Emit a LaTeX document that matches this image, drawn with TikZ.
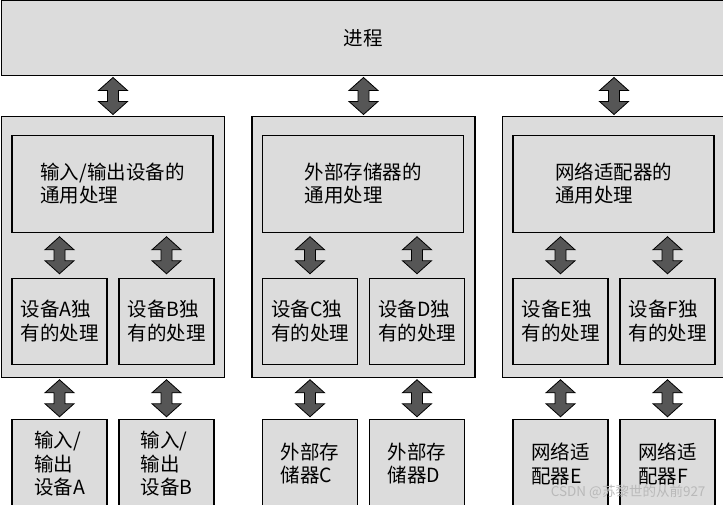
\documentclass[tikz,border=0pt]{standalone}
\usepackage{fontspec}
\setmainfont{Noto Sans CJK SC}
\usepackage{tikz}
\usetikzlibrary{positioning,calc}

\definecolor{boxgray}{HTML}{DCDCDC}
\definecolor{arrowgray}{HTML}{565656}

% block double arrow, centred in the gap between two boxes
\newcommand{\dblarrow}[2]{%
  \path[linkarrow] let \p1=(#1.south), \p2=(#2.north), \p3=($(\p1)!0.5!(\p2)$) in
    (\x2,\y3+18.5bp) -- ++(14.5bp,-13bp) -- ++(-9bp,0bp) -- ++(0bp,-11bp)
    -- ++(9bp,0bp) -- ++(-14.5bp,-13bp) -- ++(-14.5bp,13bp) -- ++(9bp,0bp)
    -- ++(0bp,11bp) -- ++(-9bp,0bp) -- cycle;}

\begin{document}
\begin{tikzpicture}[
  x=1bp, y=-1bp,
  font=\fontsize{19.5bp}{23.5bp}\selectfont,
  box/.style={draw, line width=1.4bp, fill=boxgray, inner sep=0pt,
    outer sep=0pt, align=left},
  procbox/.style={box, minimum width=723.5bp, minimum height=74.5bp},
  groupbox/.style={box, minimum width=223bp, minimum height=260.5bp},
  commonbox/.style={box, minimum width=201bp, minimum height=97bp},
  ownbox/.style={box, minimum width=95bp, minimum height=86bp},
  devbox/.style={box, minimum width=95bp, minimum height=89bp},
  linkarrow/.style={draw=black, line width=0.8bp, fill=arrowgray}
]
\useasboundingbox (0,0) rectangle (723,505);
\node[procbox, anchor=north west] (proc) at (1.5,0.75) {进程};
\node[groupbox, below=41.5bp of proc.south west, anchor=north west] (g1) {};
\node[groupbox, right=27.5bp of g1] (g2) {};
\node[groupbox, right=27.5bp of g2] (g3) {};
% I/O devices
\node[commonbox, below right=18.5bp and 10.5bp of g1.north west] (c1) {输入/输出设备的\\通用处理};
\node[ownbox, below=46bp of c1.south west, anchor=north west] (oA) {设备A独\\有的处理};
\node[ownbox, right=12bp of oA] (oB) {设备B独\\有的处理};
\node[devbox, below=55bp of oA] (dA) {输入/\\输出\\设备A};
\node[devbox, below=55bp of oB] (dB) {输入/\\输出\\设备B};
% storage
\node[commonbox, below right=18.5bp and 10.5bp of g2.north west] (c2) {外部存储器的\\通用处理};
\node[ownbox, below=46bp of c2.south west, anchor=north west] (oC) {设备C独\\有的处理};
\node[ownbox, right=12bp of oC] (oD) {设备D独\\有的处理};
\node[devbox, below=55bp of oC] (dC) {外部存\\储器C};
\node[devbox, below=55bp of oD] (dD) {外部存\\储器D};
% network
\node[commonbox, below right=18.5bp and 10.5bp of g3.north west] (c3) {网络适配器的\\通用处理};
\node[ownbox, below=46bp of c3.south west, anchor=north west] (oE) {设备E独\\有的处理};
\node[ownbox, right=12bp of oE] (oF) {设备F独\\有的处理};
\node[devbox, below=55bp of oE] (dE) {网络适\\配器E};
\node[devbox, below=55bp of oF] (dF) {网络适\\配器F};
\dblarrow{proc}{g1}
\dblarrow{proc}{g2}
\dblarrow{proc}{g3}
\dblarrow{c1}{oA}
\dblarrow{c1}{oB}
\dblarrow{c2}{oC}
\dblarrow{c2}{oD}
\dblarrow{c3}{oE}
\dblarrow{c3}{oF}
\dblarrow{g1}{dA}
\dblarrow{g1}{dB}
\dblarrow{g2}{dC}
\dblarrow{g2}{dD}
\dblarrow{g3}{dE}
\dblarrow{g3}{dF}
\node[font=\fontsize{13.5bp}{14bp}\selectfont, text=gray!55, anchor=east] (mark) at (709,492) {CSDN @苏黎世的从前927};
\end{tikzpicture}
\end{document}
